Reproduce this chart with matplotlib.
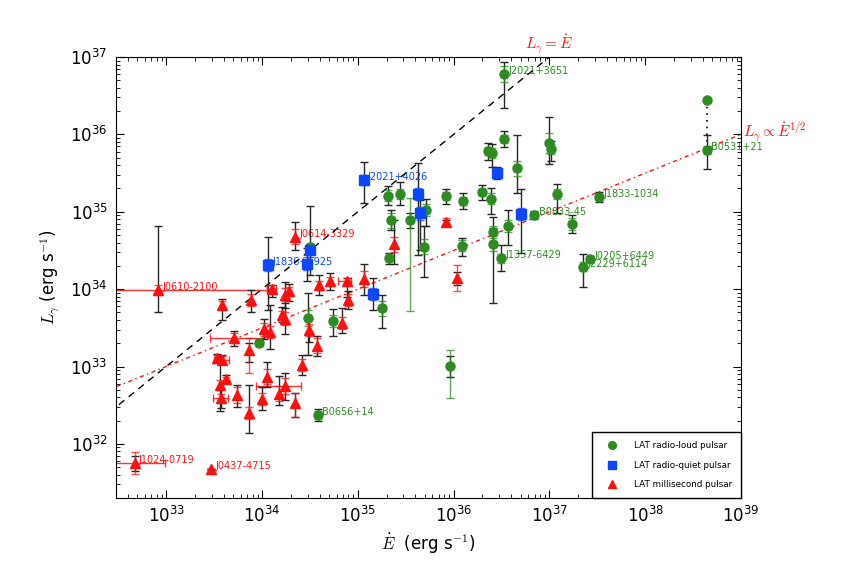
import numpy as np
import matplotlib
matplotlib.use("Agg")
import matplotlib.pyplot as plt

# values: log10(Edot), log10(Lgamma); error bars in dex
# radio-loud pulsars (green)
rl_logE = [33.97, 34.50, 34.48, 34.74, 34.58, 35.25, 35.32, 35.44, 35.35, 35.33,
           35.54, 35.71, 35.69, 35.92, 36.10, 36.30, 36.09, 35.96, 36.53, 36.53,
           36.36, 36.40, 36.66, 37.00, 37.02, 36.39, 37.08, 37.52, 36.84, 36.57,
           36.41, 36.41, 36.49, 37.24, 37.42, 37.35, 38.64]
rl_logL = [33.31, 34.54, 33.63, 33.59, 32.37, 33.75, 35.21, 35.23, 34.89, 34.40,
           34.89, 35.02, 34.55, 35.20, 35.14, 35.25, 34.56, 33.01, 36.78, 35.94,
           35.79, 35.76, 35.56, 35.89, 35.81, 35.17, 35.23, 35.19, 34.96, 34.82,
           34.74, 34.59, 34.40, 34.84, 34.39, 34.29, 35.80]
rl_lo = [0.05, 0.05, 0.48, 0.20, 0.08, 0.25, 0.12, 0.14, 0.13, 0.07,
         0.10, 0.20, 0.39, 0.10, 0.10, 0.10, 0.13, 0.15, 0.44, 0.10,
         0.12, 0.18, 0.32, 0.27, 0.15, 0.20, 0.25, 0.07, 0.05, 0.25,
         0.18, 0.77, 0.16, 0.12, 0.04, 0.26, 0.25]
rl_hi = [0.05, 0.05, 0.32, 0.15, 0.08, 0.17, 0.12, 0.15, 0.13, 0.07,
         0.10, 0.14, 0.26, 0.10, 0.10, 0.10, 0.10, 0.13, 0.16, 0.10,
         0.10, 0.12, 0.43, 0.33, 0.10, 0.14, 0.13, 0.07, 0.05, 0.20,
         0.19, 0.20, 0.17, 0.12, 0.04, 0.16, 0.19]
rl_stat_lo = [0.03, 0.03, 0.10, 0.08, 0.05, 0.10, 0.07, 0.06, 0.10, 0.04,
              1.17, 0.08, 0.10, 0.05, 0.05, 0.05, 0.07, 0.42, 0.10, 0.05,
              0.05, 0.06, 0.10, 0.13, 0.06, 0.07, 0.06, 0.04, 0.03, 0.08,
              0.08, 0.10, 0.06, 0.08, 0.02, 0.06, 0.05]
rl_stat_hi = [0.03, 0.03, 0.10, 0.08, 0.05, 0.10, 0.07, 0.06, 0.10, 0.04,
              0.29, 0.08, 0.10, 0.05, 0.05, 0.05, 0.07, 0.20, 0.10, 0.05,
              0.05, 0.06, 0.10, 0.13, 0.06, 0.07, 0.06, 0.04, 0.03, 0.08,
              0.08, 0.10, 0.06, 0.08, 0.02, 0.06, 0.05]
# Crab: second (upper) estimate joined by a dotted line
crab_upper_logL = 36.44

# radio-quiet pulsars (blue)
rq_logE = [34.06, 34.47, 34.50, 35.16, 35.06, 35.63, 35.65, 36.45, 36.70]
rq_logL = [34.31, 34.33, 34.50, 33.94, 35.41, 35.23, 34.98, 35.50, 34.97]
rq_lo = [0.58, 0.23, 0.32, 0.21, 0.30, 0.79, 0.47, 0.08, 0.50]
rq_hi = [0.37, 0.20, 0.58, 0.20, 0.23, 0.40, 0.17, 0.08, 0.32]
rq_stat = [0.08, 0.08, 0.08, 0.08, 0.06, 0.08, 0.08, 0.04, 0.08]

# millisecond pulsars (red)
ms_logE = [32.92, 33.58, 33.89, 34.10, 33.71, 34.02, 34.08, 33.87, 33.53, 33.58,
           33.56, 33.62, 33.57, 33.74, 33.86, 34.00, 34.05, 34.18, 34.24, 34.34,
           34.42, 34.57, 34.49, 34.24, 34.28, 34.21, 34.24, 34.35, 34.60, 34.71,
           34.89, 34.90, 35.07, 35.38, 35.92, 36.04, 32.67, 33.47, 34.84]
ms_logL = [33.99, 33.80, 33.86, 34.00, 33.37, 33.48, 33.45, 33.21, 33.11, 33.09,
           32.76, 32.84, 32.59, 32.63, 32.40, 32.58, 32.87, 32.65, 32.75, 32.53,
           33.02, 33.27, 33.47, 33.93, 33.97, 33.67, 33.62, 34.68, 34.05, 34.10,
           34.10, 33.86, 34.13, 34.58, 34.87, 34.14, 31.75, 31.68, 33.56]
ms_lo = [0.28, 0.20, 0.15, 0.10, 0.10, 0.13, 0.22, 0.15, 0.05, 0.06,
         0.33, 0.05, 0.12, 0.15, 0.26, 0.14, 0.13, 0.15, 0.18, 0.18,
         0.13, 0.13, 0.15, 0.18, 0.12, 0.10, 0.20, 0.17, 0.13, 0.11,
         0.20, 0.12, 0.20, 0.25, 0.03, 0.08, 0.10, 0.00, 0.13]
ms_hi = [0.82, 0.07, 0.13, 0.05, 0.09, 0.13, 0.34, 0.10, 0.05, 0.06,
         0.38, 0.05, 0.12, 0.13, 0.36, 0.15, 0.19, 0.23, 0.17, 0.13,
         0.13, 0.13, 0.15, 0.16, 0.10, 0.10, 0.20, 0.19, 0.13, 0.11,
         0.04, 0.12, 0.20, 0.31, 0.03, 0.08, 0.10, 0.00, 0.20]
ms_stat_lo = [0.07, 0.05, 0.08, 0.05, 0.06, 0.08, 0.08, 0.29, 0.04, 0.04,
              0.06, 0.03, 0.06, 0.10, 0.08, 0.08, 0.10, 0.10, 0.10, 0.18,
              0.08, 0.10, 0.08, 0.08, 0.06, 0.05, 0.08, 0.10, 0.06, 0.06,
              0.05, 0.08, 0.10, 0.10, 0.05, 0.17, 0.14, 0.00, 0.08]
ms_stat_hi = [0.07, 0.05, 0.08, 0.05, 0.06, 0.08, 0.08, 0.16, 0.04, 0.04,
              0.06, 0.03, 0.06, 0.10, 0.08, 0.08, 0.10, 0.10, 0.10, 0.13,
              0.08, 0.10, 0.08, 0.08, 0.06, 0.05, 0.08, 0.10, 0.06, 0.06,
              0.04, 0.08, 0.10, 0.10, 0.05, 0.17, 0.14, 0.00, 0.08]
# horizontal (distance) error bars on Edot, in dex
ms_xlo = [0.92, 0, 0, 0.05, 0.25, 0, 0, 0, 0, 0.08,
          0, 0, 0.08, 0, 0, 0, 0, 0, 0.30, 0,
          0, 0, 0, 0, 0, 0, 0, 0, 0, 0,
          0.10, 0, 0, 0, 0, 0, 0.20, 0, 0]
ms_xhi = [1.13, 0, 0, 0.05, 0.30, 0, 0, 0, 0, 0.08,
          0, 0, 0.08, 0, 0, 0, 0, 0, 0.17, 0,
          0, 0, 0, 0, 0, 0, 0, 0, 0, 0,
          0.04, 0, 0, 0, 0, 0, 0.32, 0, 0]

# labelled pulsars: (name, class, index)
labels = [("J2021+3651", "rl", 18), ("B0531+21", "rl", 36), ("J1833-1034", "rl", 27),
          ("B0833-45", "rl", 28), ("J1357-6429", "rl", 32), ("J0205+6449", "rl", 34),
          ("J2229+6114", "rl", 35), ("B0656+14", "rl", 4),
          ("J2021+4026", "rq", 4), ("J1836+5925", "rq", 0),
          ("J0614-3329", "ms", 27), ("J0610-2100", "ms", 0),
          ("J1024-0719", "ms", 36), ("J0437-4715", "ms", 37)]

green = "#2e8b22"
blue = "#0a47ff"
red = "#ff1010"


def asym(logv, lo, hi):
    logv = np.asarray(logv)
    v = 10.0 ** logv
    return v, [v - 10.0 ** (logv - np.asarray(lo)), 10.0 ** (logv + np.asarray(hi)) - v]


fig = plt.figure(figsize=(8.5, 5.72), dpi=100)
ax = fig.add_axes([0.1365, 0.1294, 0.7353, 0.7709])
ax.set_xscale("log")
ax.set_yscale("log")

# reference relations
e_line = np.logspace(32, 39.5, 60)
ax.plot(e_line, e_line, color="k", lw=1, ls=(0, (5, 4)), zorder=1.5)
ax.plot(e_line, np.sqrt(1e33 * e_line), color=red, lw=1, ls=(0, (3, 2.5, 1, 2.5)), zorder=1.5)


def draw(logE, logL, lo, hi, slo, shi, color, marker, label):
    E = 10.0 ** np.asarray(logE)
    L, yerr = asym(logL, lo, hi)
    _, serr = asym(logL, slo, shi)
    ax.errorbar(E, L, yerr=yerr, fmt="none", ecolor="0.15", elinewidth=1,
                capsize=3, capthick=1, zorder=2)
    ax.errorbar(E, L, yerr=serr, fmt="none", ecolor=color, elinewidth=1,
                capsize=3, capthick=1, alpha=0.75, zorder=2.2)
    ax.plot(E, L, ls="none", marker=marker, ms=6.5, color=color, mec=color,
            zorder=3, label=label)


draw(rl_logE, rl_logL, rl_lo, rl_hi, rl_stat_lo, rl_stat_hi, green, "o", "LAT radio-loud pulsar")
draw(rq_logE, rq_logL, rq_lo, rq_hi, rq_stat, rq_stat, blue, "s", "LAT radio-quiet pulsar")

# MSP horizontal error bars first
has_x = [i for i in range(len(ms_logE)) if ms_xlo[i] > 0]
xE, xerr = asym([ms_logE[i] for i in has_x], [ms_xlo[i] for i in has_x], [ms_xhi[i] for i in has_x])
ax.errorbar(xE, [10.0 ** ms_logL[i] for i in has_x], xerr=xerr, fmt="none",
            ecolor=red, elinewidth=1, capsize=3, capthick=1, alpha=0.85, zorder=2)
draw(ms_logE, ms_logL, ms_lo, ms_hi, ms_stat_lo, ms_stat_hi, red, "^", "LAT millisecond pulsar")

# Crab upper value
crabE = 10.0 ** rl_logE[36]
ax.plot([crabE, crabE], [10.0 ** crab_upper_logL, 10.0 ** rl_logL[36]], color="k", ls=(0, (1, 3)), lw=1.2, zorder=1.8)
ax.plot([crabE], [10.0 ** crab_upper_logL], ls="none", marker="o", ms=6.5, color=green, zorder=3)

# pulsar names
groups = {"rl": (rl_logE, rl_logL, green), "rq": (rq_logE, rq_logL, blue), "ms": (ms_logE, ms_logL, red)}
for name, cls, i in labels:
    le, ll, c = groups[cls]
    ax.annotate(name, (10.0 ** le[i], 10.0 ** ll[i]), xytext=(3.2, -1.5), textcoords="offset points",
                fontsize=7, color=c, ha="left", va="bottom", zorder=1)

ax.text(10.0 ** 36.99, 10.0 ** 37.17, r"$L_\gamma = \dot{E}$", color=red, fontsize=11,
        ha="center", va="center", clip_on=False, math_fontfamily="cm")
ax.text(10.0 ** 39.02, 10.0 ** 36.02, r"$L_\gamma \propto \dot{E}^{1/2}$", color=red, fontsize=11,
        ha="left", va="center", clip_on=False, math_fontfamily="cm")

ax.set_xlim(3e32, 1e39)
ax.set_ylim(2e31, 1e37)
ax.tick_params(which="both", direction="in", top=True, right=True)
ax.tick_params(which="major", length=6, labelsize=12, pad=6)
ax.tick_params(which="minor", length=3)

ax.set_xlabel(r"$\dot{E}$  (erg s$^{-1}$)", fontsize=12, math_fontfamily="cm")
ax.set_ylabel(r"$L_\gamma$ (erg s$^{-1}$)", fontsize=12, math_fontfamily="cm", labelpad=6)

leg = ax.legend(loc="lower right", bbox_to_anchor=(1.0, 0.0), borderaxespad=0.0, fontsize=6.3,
                numpoints=1, markerscale=0.85, handlelength=2.5, handletextpad=1.3,
                borderpad=1.0, labelspacing=1.2, fancybox=False, framealpha=1)
leg.get_frame().set_edgecolor("k")

plt.savefig("out.png", dpi=100)
